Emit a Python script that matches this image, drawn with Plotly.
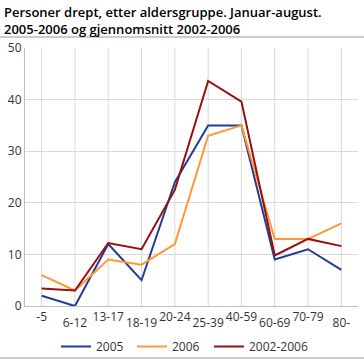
import plotly.graph_objects as go

categories = ["-5", "6-12", "13-17", "18-19", "20-24", "25-39", "40-59", "60-69", "70-79", "80-"]
s2005 = [2, 0, 12, 5, 24, 35, 35, 9, 11, 7]
s2006 = [6, 3, 9, 8, 12, 33, 35, 13, 13, 16]
savg = [3.4, 3, 12.2, 11, 22.5, 43.6, 39.6, 9.8, 13, 11.6]

W, H = 364, 360
ml, mr, mt, mb = 25, 6, 48, 54
pw, ph = W - ml - mr, H - mt - mb
def px(x): return (x - ml) / pw
def py(y): return (H - mb - y) / ph

xs = list(range(len(categories)))
even = [i for i in xs if i % 2 == 0]
odd = [i for i in xs if i % 2 == 1]

series = [("2005", s2005, "#1f3d99", "legend", 56),
          ("2006", s2006, "#ff9933", "legend2", 132),
          ("2002-2006", savg, "#990f0f", "legend3", 209)]

fig = go.Figure()
for name, vals, col, lg, _ in series:
    fig.add_trace(go.Scatter(x=xs, y=vals, mode="lines", name=name, legend=lg,
                             line=dict(color=col, width=2)))
# invisible carrier so the staggered label axis is drawn
fig.add_trace(go.Scatter(x=xs, y=s2005, mode="none", xaxis="x2", showlegend=False,
                         hoverinfo="skip"))

legend_style = dict(orientation="h", xanchor="left", yanchor="top", y=py(332),
                    itemwidth=30, font=dict(size=12, color="#333333"),
                    bgcolor="rgba(0,0,0,0)")
legends = {lg: dict(legend_style, x=px(lx)) for _, _, _, lg, lx in series}

rng = [-0.5, len(categories) - 0.5]
fig.update_layout(
    width=W, height=H,
    margin=dict(l=ml, r=mr, t=mt, b=mb, autoexpand=False),
    paper_bgcolor="white", plot_bgcolor="white",
    font=dict(family="Open Sans", size=12, color="#333333"),
    showlegend=True,
    annotations=[dict(text="Personer drept, etter aldersgruppe. Januar-august.<br>2005-2006 og gjennomsnitt 2002-2006",
                      x=px(2), y=py(1), xref="paper", yref="paper", showarrow=False,
                      xanchor="left", yanchor="top", align="left",
                      font=dict(family="Open Sans", size=13, color="#000000", weight=600))],
    xaxis=dict(range=rng, tickmode="array", tickvals=even, ticktext=[categories[i] for i in even],
               tickangle=0, automargin=False, showgrid=False,
               showline=True, linecolor="#bfbfbf", ticks="", zeroline=False,
               tickfont=dict(size=12, color="#333333")),
    xaxis2=dict(range=rng, overlaying="x", side="bottom", tickmode="array", tickvals=odd,
                ticktext=[categories[i] for i in odd], tickangle=0, automargin=False,
                ticklabelstandoff=8, showgrid=False, showline=False, ticks="", zeroline=False,
                tickfont=dict(size=12, color="#333333")),
    yaxis=dict(range=[0, 50], dtick=10, showgrid=True, gridcolor="#d9d9d9", gridwidth=1,
               automargin=False, showline=True, linecolor="#bfbfbf", ticks="", zeroline=False,
               tickfont=dict(size=12, color="#333333")),
    **legends,
)

# vertical category gridlines
for i in xs:
    fig.add_shape(type="line", xref="x", yref="paper", x0=i, x1=i, y0=0, y1=1,
                  line=dict(color="#d9d9d9", width=1), layer="below")

fig.add_shape(type="line", xref="paper", yref="paper", x0=px(0), x1=px(364), y0=py(37), y1=py(37),
              line=dict(color="#999999", width=1))
fig.add_shape(type="line", xref="paper", yref="paper", x0=px(0), x1=px(364), y0=py(358), y1=py(358),
              line=dict(color="#999999", width=1))

fig.write_html("out.html", config={"displayModeBar": False},
               post_script="document.body.style.margin='0';document.body.style.overflow='hidden';")
